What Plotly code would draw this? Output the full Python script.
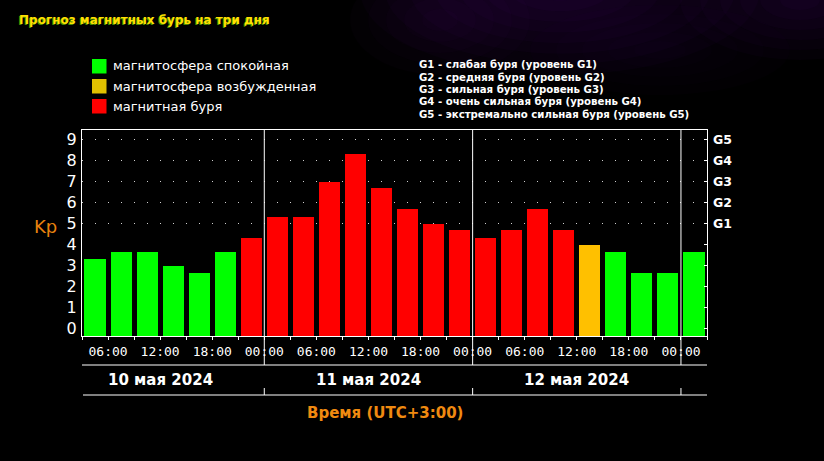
import plotly.graph_objects as go
import pandas as pd

# ---- data ----
slot_start = pd.date_range("2024-05-10 03:00", periods=24, freq="3h")
kp = [3.33, 3.67, 3.67, 3.00, 2.67, 3.67, 4.33,
      5.33, 5.33, 7.00, 8.33, 6.67, 5.67, 5.00, 4.67,
      4.33, 4.67, 5.67, 4.67, 4.00, 3.67, 2.67, 2.67,
      3.67]
status = (["calm"] * 6 + ["storm"] * 13 + ["excited"] + ["calm"] * 4)
days = ["2024-05-10 12:00", "2024-05-11 12:00", "2024-05-12 12:00"]
day_labels = ["10 мая 2024", "11 мая 2024", "12 мая 2024"]
day_bounds = ["2024-05-11 00:00", "2024-05-12 00:00", "2024-05-13 00:00"]
y_ticks = list(range(10))
g_ticks = ["", "", "", "", "", "G1", "G2", "G3", "G4", "G5"]
legend_items = ["магнитосфера спокойная", "магнитосфера возбужденная", "магнитная буря"]
legend_colors = ["#00FF00", "#E0C000", "#FF0000"]
g_desc = ["G1 - слабая буря (уровень G1)",
          "G2 - средняя буря (уровень G2)",
          "G3 - сильная буря (уровень G3)",
          "G4 - очень сильная буря (уровень G4)",
          "G5 - экстремально сильная буря (уровень G5)"]
title = "Прогноз магнитных бурь на три дня"
x_title = "Время (UTC+3:00)"

bar_colors = {"calm": "#00FF00", "excited": "#FFC000", "storm": "#FF0000"}

# ---- geometry helpers ----
W, H = 824, 461
L, R, T, B = 82, 707, 130, 336
YMIN, YMAX = -0.35, 9.45


def pxx(x):
    return (x - L) / (R - L)


def pxy(y):
    return (B - y) / (B - T)


HOUR = 3600 * 1000
x_mid = [t + pd.Timedelta(minutes=90) for t in slot_start]

fig = go.Figure()
fig.add_trace(go.Bar(
    x=x_mid, y=[v - YMIN for v in kp], base=YMIN,
    width=3 * HOUR * 0.81,
    marker=dict(color=[bar_colors[s] for s in status], line=dict(width=0)),
    customdata=kp, hovertemplate="%{x}<br>Kp %{customdata}<extra></extra>",
    showlegend=False,
))
fig.add_trace(go.Scatter(
    x=[x_mid[0]], y=[kp[0]], yaxis="y2", mode="markers",
    marker=dict(opacity=0), showlegend=False, hoverinfo="skip",
))

shapes = []
# soft background glow (concentric translucent ellipses)
for cx, cy, rx, ry, n, op in [
    (560, -10, 200, 85, 8, 0.03),
    (800, 0, 120, 60, 6, 0.03),
    (440, 20, 90, 55, 5, 0.022),
    (660, 50, 130, 45, 5, 0.016),
]:
    for k in range(n):
        f = 1 - k / n
        shapes.append(dict(type="circle", xref="paper", yref="paper", layer="below",
                           x0=pxx(cx - rx * f), x1=pxx(cx + rx * f),
                           y0=pxy(cy + ry * f), y1=pxy(cy - ry * f),
                           fillcolor=f"rgba(120,30,190,{op})", line=dict(width=0)))
# day separators
for d in day_bounds:
    shapes.append(dict(type="line", xref="x", yref="paper", x0=d, x1=d,
                       y0=pxy(365), y1=1, line=dict(color="white", width=1)))
    shapes.append(dict(type="line", xref="x", yref="paper", x0=d, x1=d,
                       y0=pxy(395), y1=pxy(388), line=dict(color="white", width=1)))
shapes.append(dict(type="line", xref="paper", yref="paper", x0=0, x1=1,
                   y0=pxy(365), y1=pxy(365), line=dict(color="white", width=1)))
shapes.append(dict(type="line", xref="paper", yref="paper", x0=pxx(83), x1=1,
                   y0=pxy(395), y1=pxy(395), line=dict(color="white", width=1)))
# legend swatches
for i, c in enumerate(legend_colors):
    y0 = 59 + 20 * i
    shapes.append(dict(type="rect", xref="paper", yref="paper",
                       x0=pxx(92), x1=pxx(106.5), y0=pxy(y0 + 14.5), y1=pxy(y0),
                       fillcolor=c, line=dict(width=0)))

ann = []
ann.append(dict(text=f"<b>{title}</b>", xref="paper", yref="paper", x=pxx(17), y=pxy(20),
                xanchor="left", yanchor="middle", showarrow=False,
                font=dict(family="DejaVu Sans", size=12, color="#FFE000",
                          shadow="-1px 1px 0px #4a8a00")))
for i, t in enumerate(legend_items):
    ann.append(dict(text=t, xref="paper", yref="paper", x=pxx(111), y=pxy(66 + 20 * i),
                    xanchor="left", yanchor="middle", showarrow=False,
                    font=dict(family="DejaVu Sans", size=13, color="white")))
for i, t in enumerate(g_desc):
    ann.append(dict(text=f"<b>{t}</b>", xref="paper", yref="paper", x=pxx(417),
                    y=pxy(65 + 12.25 * i), xanchor="left", yanchor="middle", showarrow=False,
                    font=dict(family="DejaVu Sans Condensed", size=11.3, color="white")))
for d, t in zip(days, day_labels):
    ann.append(dict(text=f"<b>{t}</b>", xref="x", yref="paper", x=d, y=pxy(380),
                    xanchor="center", yanchor="middle", showarrow=False,
                    font=dict(family="DejaVu Sans", size=15, color="white")))
ann.append(dict(text=f"<b>{x_title}</b>", xref="paper", yref="paper", x=pxx(385), y=pxy(413),
                xanchor="center", yanchor="middle", showarrow=False,
                font=dict(family="DejaVu Sans", size=15, color="#F08A10")))
ann.append(dict(text="Kp", xref="paper", yref="paper", x=pxx(45), y=pxy(226),
                xanchor="center", yanchor="middle", showarrow=False,
                font=dict(family="DejaVu Sans", size=18, color="#E8820E")))

fig.update_layout(
    width=W, height=H,
    margin=dict(l=L, r=W - R, t=T, b=H - B, pad=0),
    paper_bgcolor="#000000", plot_bgcolor="rgba(0,0,0,0)",
    showlegend=False, bargap=0,
    shapes=shapes, annotations=ann,
    xaxis=dict(
        type="date", range=["2024-05-10 03:00", "2024-05-13 03:00"],
        tick0="2024-05-10 00:00", dtick=6 * HOUR, tickformat="%H:%M",
        ticks="outside", ticklen=3, tickcolor="white",
        minor=dict(dtick=3 * HOUR, tick0="2024-05-10 00:00", ticks="outside",
                   ticklen=3, tickcolor="white", showgrid=False),
        showline=True, linecolor="white", linewidth=1, mirror=True,
        showgrid=False, zeroline=False, fixedrange=True,
        tickfont=dict(family="DejaVu Sans Mono", size=13, color="white"),
        ticklabelstandoff=0,
    ),
    yaxis=dict(
        range=[YMIN, YMAX], tickvals=y_ticks, ticks="", showgrid=False,
        minor=dict(tickvals=[5, 6, 7, 8, 9], showgrid=True, gridcolor="#cfcfcf",
                   gridwidth=1, griddash="1px,12px", ticks=""),
        showline=True, linecolor="white", linewidth=1, mirror=True,
        zeroline=False, fixedrange=True,
        tickfont=dict(family="DejaVu Sans", size=16, color="white"),
        ticklabelstandoff=1,
    ),
    yaxis2=dict(
        range=[YMIN, YMAX], overlaying="y", side="right", tickvals=y_ticks,
        ticktext=g_ticks, ticks="inside", ticklen=3, tickcolor="white",
        showgrid=False, zeroline=False, showline=False, fixedrange=True,
        tickfont=dict(family="DejaVu Sans", size=12.5, color="white", weight="bold"),
        ticklabelstandoff=5,
    ),
)

fig.write_html("out.html", config={"displayModeBar": False},
               post_script="document.body.style.margin='0';")
